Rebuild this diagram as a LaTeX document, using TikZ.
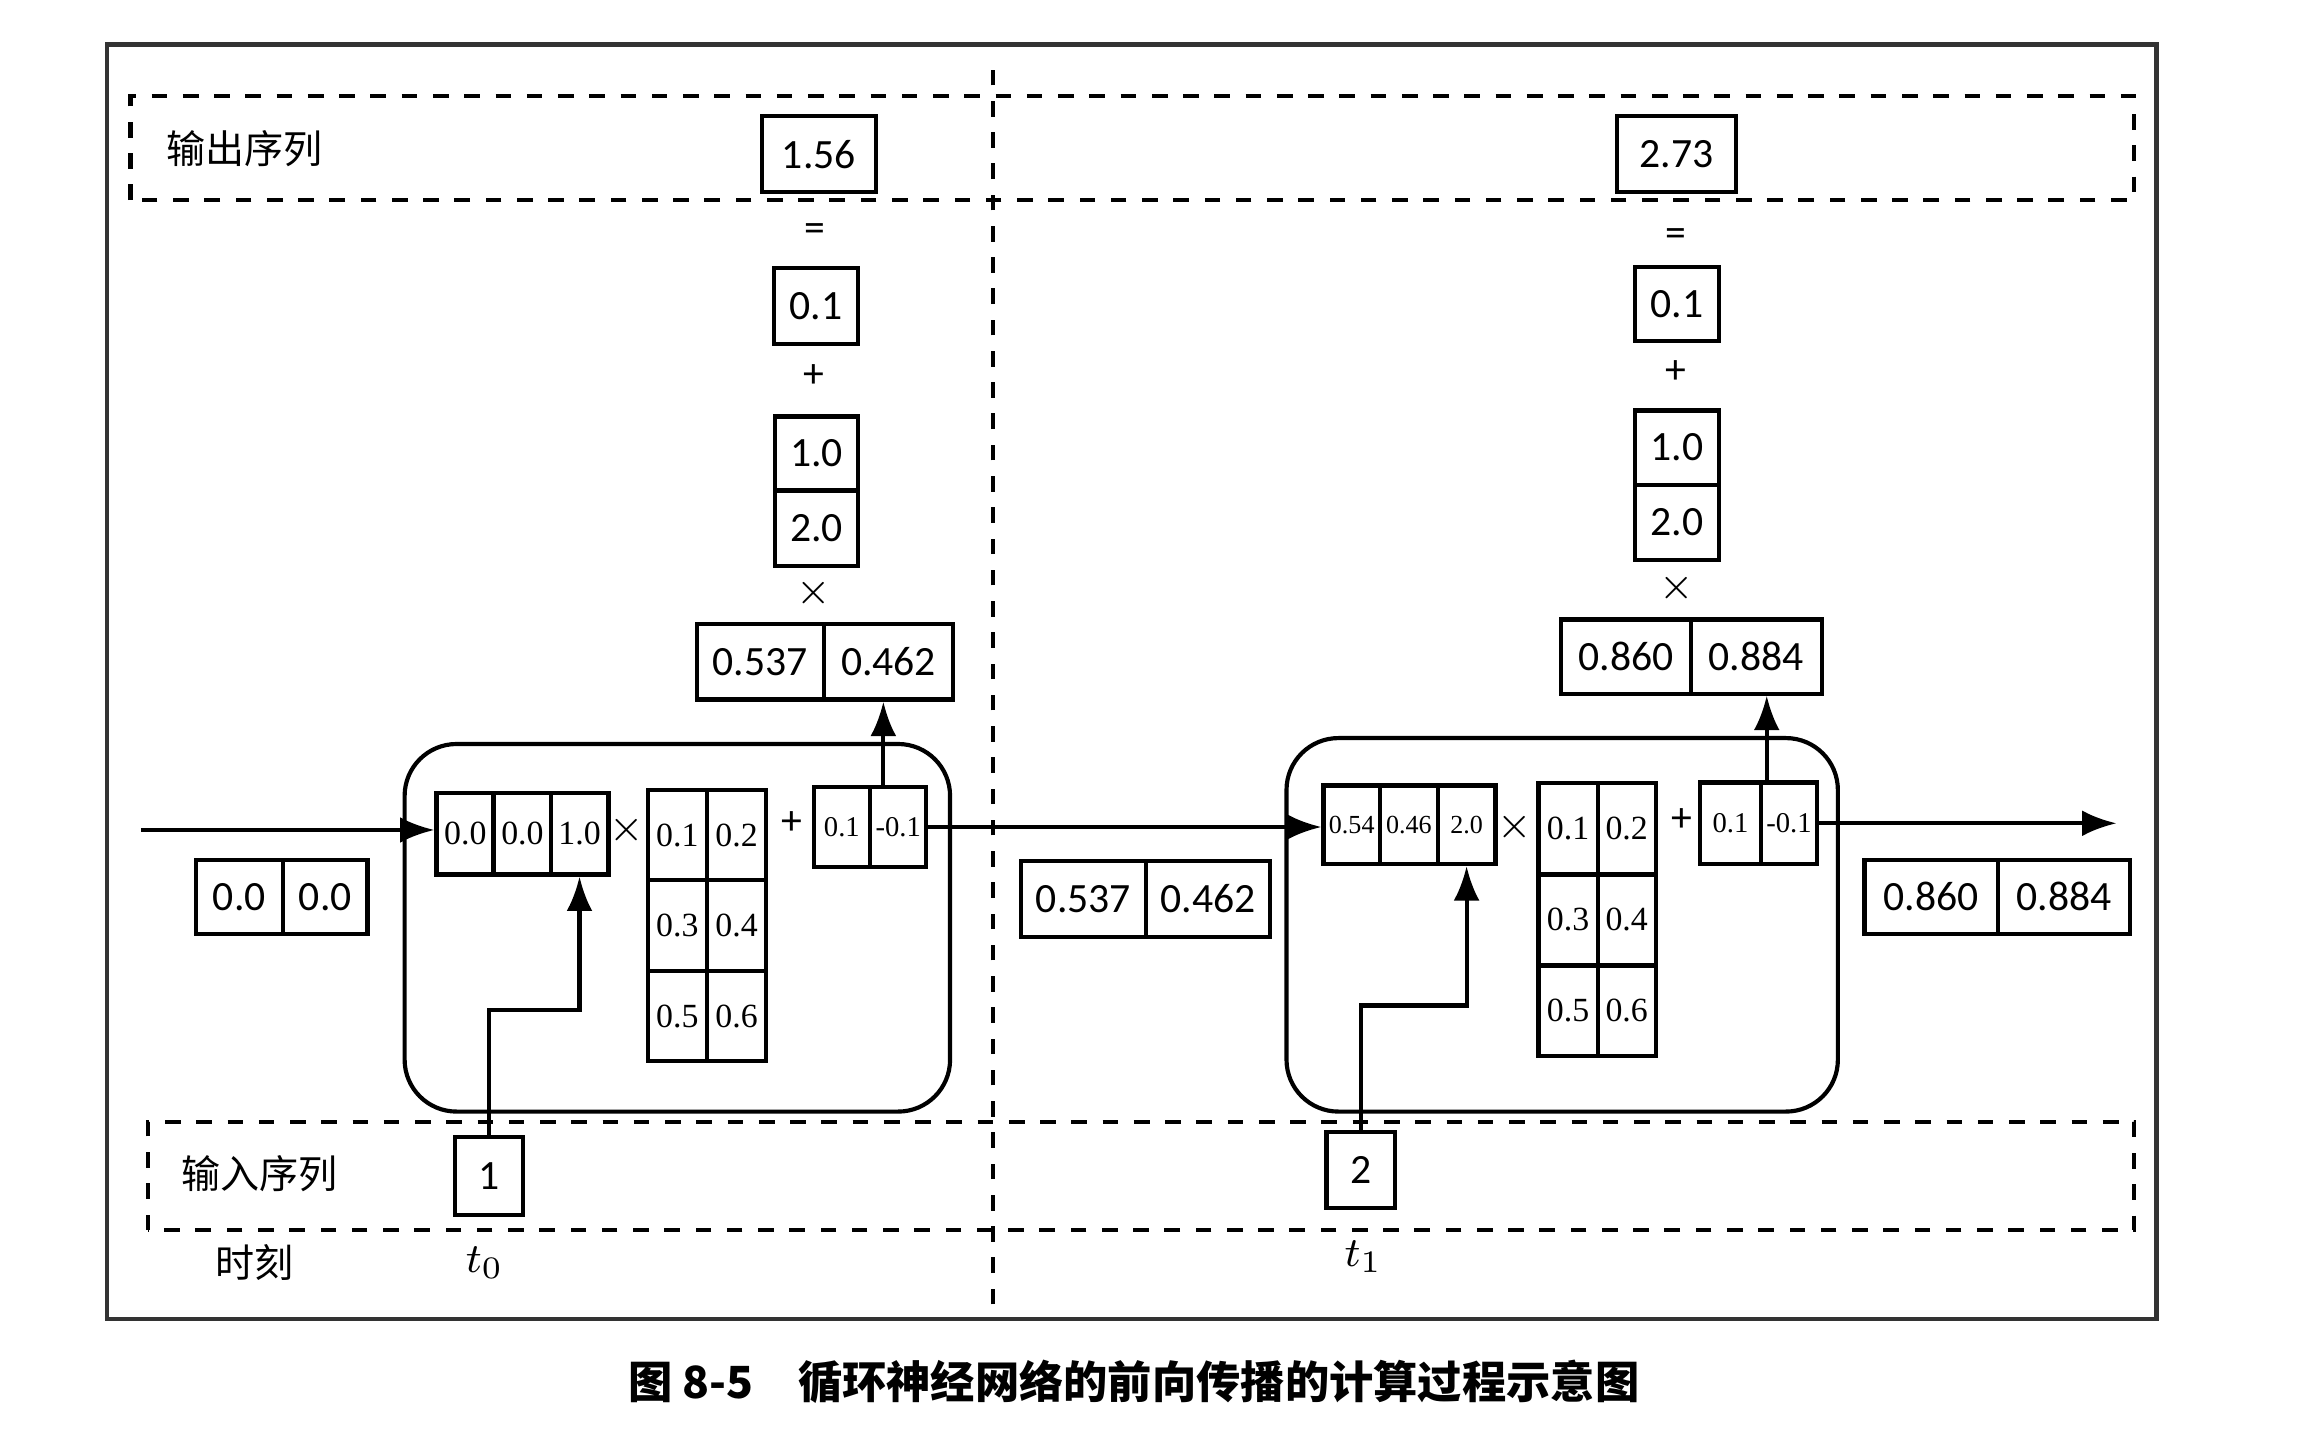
\documentclass[tikz,border=0pt]{standalone}
\usepackage{fontspec}
\setmainfont{Carlito}
\newfontfamily\cjk{Noto Sans CJK SC}
\newfontfamily\smallnum{Liberation Serif}
\usetikzlibrary{arrows.meta, positioning, calc}

\begin{document}
\begin{tikzpicture}[
    >=Latex,
    font=\fontsize{8}{9}\selectfont,
    cell/.style = {draw, thick, inner sep=0pt, minimum width=#1, minimum height=0.51cm},
    cell/.default = 0.57cm,
    mcell/.style = {draw, thick, inner sep=0pt, minimum width=0.39cm, minimum height=#1, font=\smallnum\fontsize{6.5}{7}\selectfont},
    mcell/.default = 0.55cm,
    bcell/.style = {mcell=#1, font=\smallnum\fontsize{5.5}{6}\selectfont},
    cellbox/.style = {draw, thick, rounded corners=0.35cm},
    group/.style = {draw, dashed, thick},
    tag/.style = {font=\cjk\fontsize{7.5}{8}\selectfont},
    arrow/.style = {->, thick}
]
\useasboundingbox (0,0) rectangle (15.68,9.74);

% =========================================================
% FRAMES
% =========================================================
\draw[thick, black!80] (0.72,0.84) rectangle (14.55,9.44);
\draw[group] (0.88,8.39) rectangle (14.40,9.09);
\draw[group] (1.00,1.44) rectangle (14.40,2.17);
\draw[group] (6.70,0.94) -- (6.70,9.34);
\node[tag] (outlab) at (1.65,8.74) {输出序列};
\node[tag] (inlab) at (1.75,1.82) {输入序列};
\node[tag] (timelab) at (1.72,1.22) {时刻};
\node (t0) at (3.27,1.22) {$t_0$};
\node (t1) at (9.20,1.26) {$t_1$};
\node[font=\cjk\bfseries\fontsize{8.5}{9}\selectfont] (caption) at (7.65,0.42) {图 8-5\quad 循环神经网络的前向传播的计算过程示意图};

% =========================================================
% TIME STEP t0
% =========================================================
\draw[cellbox] (2.73,2.24) rectangle (6.41,4.72);
\node[cell=0.77cm] (y1) at (5.525,8.70) {1.56};
\node at (5.50,8.17) {=};
\node[cell] (by1) at (5.505,7.675) {0.1};
\node at (5.49,7.20) {+};
\node[cell=0.56cm, minimum height=0.50cm] (wy11) at (5.51,6.68) {1.0};
\node[cell=0.56cm] (wy12) at (5.51,6.175) {2.0};
\node at (5.49,5.74) {$\times$};
\node[cell=0.86cm] (h11) at (5.13,5.275) {0.537};
\node[cell=0.87cm] (h12) at (5.995,5.275) {0.462};

\node[cell=0.59cm, minimum height=0.50cm] (h01) at (1.615,3.69) {0.0};
\node[cell=0.57cm, minimum height=0.50cm] (h02) at (2.195,3.69) {0.0};

\node[mcell] (x11) at (3.14,4.115) {0.0};
\node[mcell] (x12) at (3.525,4.115) {0.0};
\node[mcell] (x13) at (3.91,4.115) {1.0};
\node at (4.23,4.14) {$\times$};
\foreach \r/\y/\v/\w in {1/4.105/0.1/0.2, 2/3.495/0.3/0.4, 3/2.885/0.5/0.6}{
  \node[mcell=0.61cm, minimum width=0.40cm] (m1\r1) at (4.57,\y) {\v};
  \node[mcell=0.61cm, minimum width=0.40cm] (m1\r2) at (4.97,\y) {\w};
}
\node at (5.34,4.19) {+};
\node[bcell=0.54cm, minimum width=0.38cm] (b11) at (5.68,4.16) {0.1};
\node[bcell=0.54cm, minimum width=0.38cm] (b12) at (6.06,4.16) {-0.1};

\node[cell=0.46cm, minimum height=0.53cm] (in1) at (3.30,1.805) {1};

% =========================================================
% TIME STEP t1
% =========================================================
\draw[cellbox] (8.68,2.24) rectangle (12.40,4.76);
\node[cell=0.80cm] (y2) at (11.31,8.70) {2.73};
\node at (11.31,8.14) {=};
\node[cell, minimum height=0.50cm] (by2) at (11.315,7.69) {0.1};
\node at (11.31,7.23) {+};
\node[cell, minimum height=0.50cm] (wy21) at (11.315,6.72) {1.0};
\node[cell] (wy22) at (11.315,6.215) {2.0};
\node at (11.31,5.77) {$\times$};
\node[cell=0.88cm, minimum height=0.50cm] (h21) at (10.97,5.31) {0.860};
\node[cell=0.88cm, minimum height=0.50cm] (h22) at (11.85,5.31) {0.884};

\node[cell=0.84cm] (c11) at (7.31,3.675) {0.537};
\node[cell=0.84cm] (c12) at (8.15,3.675) {0.462};

\node[mcell=0.53cm, minimum width=0.38cm, font=\smallnum\fontsize{5}{6}\selectfont] (x21) at (9.12,4.175) {0.54};
\node[mcell=0.53cm, font=\smallnum\fontsize{5}{6}\selectfont] (x22) at (9.505,4.175) {0.46};
\node[mcell=0.53cm, font=\smallnum\fontsize{5}{6}\selectfont] (x23) at (9.895,4.175) {2.0};
\node at (10.22,4.16) {$\times$};
\foreach \r/\y/\v/\w in {1/4.15/0.1/0.2, 2/3.535/0.3/0.4, 3/2.92/0.5/0.6}{
  \node[mcell=0.61cm, minimum width=0.40cm] (m2\r1) at (10.58,\y) {\v};
  \node[mcell=0.61cm, minimum width=0.39cm] (m2\r2) at (10.975,\y) {\w};
}
\node at (11.35,4.21) {+};
\node[bcell=0.55cm, minimum width=0.41cm] (b21) at (11.675,4.185) {0.1};
\node[bcell=0.55cm, minimum width=0.38cm] (b22) at (12.07,4.185) {-0.1};

\node[cell=0.90cm, minimum height=0.50cm] (c21) at (13.03,3.69) {0.860};
\node[cell=0.89cm, minimum height=0.50cm] (c22) at (13.925,3.69) {0.884};

\node[cell=0.46cm] (in2) at (9.18,1.845) {2};
\coordinate (hin) at (0.95,4.14);
\coordinate (hout) at (14.28,4.185);

% =========================================================
% WIRING
% =========================================================
\draw[arrow] (hin) -- (hin -| x11.west);
\draw[arrow] (in1.north) |- ($(x13.south)+(0,-0.9)$) -- (x13.south);
\draw[arrow] ([xshift=-0.1cm]b12.north) -- ([xshift=-0.1cm]b12.north |- h12.south);
\draw[arrow] (b12.east) -- (b12.east -| x21.west);

\draw[arrow] (in2.north) |- ($(x23.south)+(0,-0.94)$) -- (x23.south);
\draw[arrow] ([xshift=-0.15cm]b22.north) -- ([xshift=-0.15cm]b22.north |- h22.south);
\draw[arrow] (b22.east) -- (hout);

\end{tikzpicture}
\end{document}
